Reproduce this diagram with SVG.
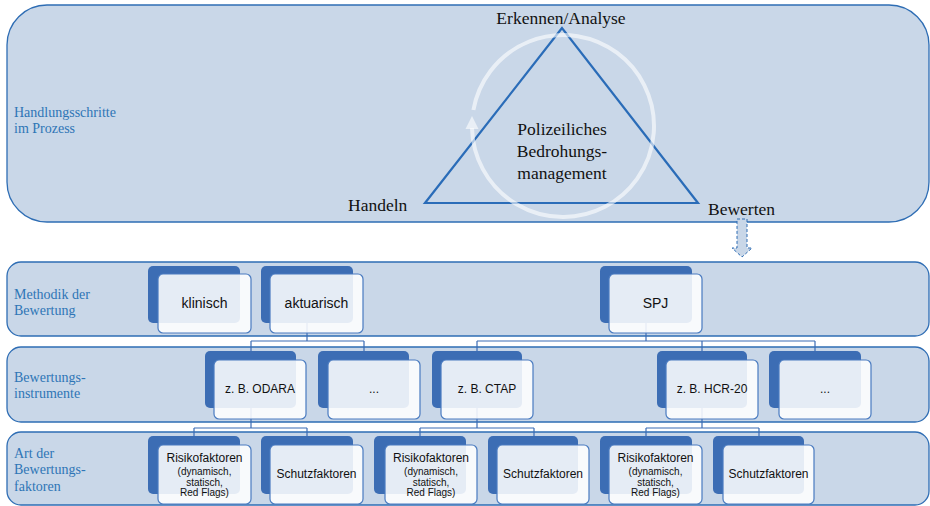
<svg xmlns="http://www.w3.org/2000/svg" width="930" height="506" viewBox="0 0 930 506">
  <style>
    .panel { fill: #c9d7e8; stroke: #2e6db4; stroke-width: 1.3; }
    .rowlabel { font-family: "Liberation Serif", "Times New Roman", serif; font-size: 14px; fill: #2e75b6; }
    .cycle { font-family: "Liberation Serif", "Times New Roman", serif; font-size: 17.5px; fill: #111; }
    .back { fill: #3c6db4; }
    .front { fill: #ffffff; fill-opacity: 0.87; stroke: #4a7bc0; stroke-width: 1.2; }
    .t14 { font-family: "Liberation Sans", Arial, sans-serif; font-size: 14px; fill: #111; text-anchor: middle; }
    .t12 { font-family: "Liberation Sans", Arial, sans-serif; font-size: 12px; fill: #111; text-anchor: middle; }
    .t10 { font-family: "Liberation Sans", Arial, sans-serif; font-size: 10px; fill: #111; text-anchor: middle; }
    .conn { fill: none; stroke: #3b6cb5; stroke-width: 1.2; }
  </style>

  <!-- Stage panels -->
  <g id="panel-process">
    <rect class="panel" x="7" y="5" width="922" height="217" rx="40" ry="40"/>
    <text class="rowlabel" x="14" y="117">Handlungsschritte</text>
    <text class="rowlabel" x="14" y="133">im Prozess</text>
  </g>
  <g id="panel-methodik">
    <rect class="panel" x="7" y="262" width="922" height="74" rx="14" ry="14"/>
    <text class="rowlabel" x="14" y="299">Methodik der</text>
    <text class="rowlabel" x="14" y="315">Bewertung</text>
  </g>
  <g id="panel-instrumente">
    <rect class="panel" x="7" y="347" width="922" height="75" rx="14" ry="14"/>
    <text class="rowlabel" x="14" y="382">Bewertungs-</text>
    <text class="rowlabel" x="14" y="398">instrumente</text>
  </g>
  <g id="panel-faktoren">
    <rect class="panel" x="7" y="432" width="922" height="73" rx="14" ry="14"/>
    <text class="rowlabel" x="14" y="458">Art der</text>
    <text class="rowlabel" x="14" y="474">Bewertungs-</text>
    <text class="rowlabel" x="14" y="491">faktoren</text>
  </g>

  <!-- Threat management cycle -->
  <g id="cycle">
    <polygon points="562,28 425,203 698,203" fill="none" stroke="#2a6cb8" stroke-width="2.2" stroke-linejoin="miter"/>
    <path d="M 473.4 110 A 91 91 0 1 1 472 128" fill="none" stroke="#ffffff" stroke-opacity="0.6" stroke-width="4"/>
    <polygon points="472,116 465.5,129 478.5,129" fill="#ffffff" fill-opacity="0.6"/>
    <text class="cycle" x="561" y="24" text-anchor="middle">Erkennen/Analyse</text>
    <text class="cycle" x="348" y="211">Handeln</text>
    <text class="cycle" x="708" y="215">Bewerten</text>
    <text class="cycle" x="562" y="135" text-anchor="middle">Polizeiliches</text>
    <text class="cycle" x="562" y="157" text-anchor="middle">Bedrohungs-</text>
    <text class="cycle" x="562" y="179" text-anchor="middle">management</text>
  </g>

  <!-- Transition arrow from the cycle into the method rows -->
  <g id="transition-arrow">
    <polygon points="737,219 747,219 747,248 752,248 742,257 732,248 737,248" fill="#c9d7e8" stroke="#2e6db4" stroke-width="1" stroke-dasharray="3,2"/>
  </g>

  <!-- Connectors -->
  <g id="connectors">
    <path class="conn" d="M307,323 V341 M251,341 H364 M251,341 V351 M364,341 V351"/>
    <path class="conn" d="M646,323 V341 M477,341 H815 M477,341 V351 M702,341 V351 M815,341 V351"/>
    <path class="conn" d="M251,408 V428 M194,428 H307 M194,428 V436 M307,428 V436"/>
    <path class="conn" d="M477,408 V428 M420,428 H534 M420,428 V436 M534,428 V436"/>
    <path class="conn" d="M702,408 V428 M646,428 H759 M646,428 V436 M759,428 V436"/>
  </g>

  <!-- Row: Methodik der Bewertung -->
  <g id="node-klinisch">
    <rect class="back" x="148" y="266" width="92" height="57" rx="5"/>
    <rect class="front" x="158" y="274" width="93" height="59" rx="5"/>
    <text class="t14" x="204.5" y="308">klinisch</text>
  </g>
  <g id="node-aktuarisch">
    <rect class="back" x="261" y="266" width="92" height="57" rx="5"/>
    <rect class="front" x="270" y="274" width="93" height="59" rx="5"/>
    <text class="t14" x="316.5" y="308">aktuarisch</text>
  </g>
  <g id="node-spj">
    <rect class="back" x="600" y="266" width="92" height="57" rx="5"/>
    <rect class="front" x="609" y="274" width="93" height="59" rx="5"/>
    <text class="t14" x="655.5" y="308">SPJ</text>
  </g>

  <!-- Row: Bewertungsinstrumente -->
  <g id="node-odara">
    <rect class="back" x="205" y="351" width="91" height="57" rx="5"/>
    <rect class="front" x="214" y="360" width="92" height="59" rx="5"/>
    <text class="t12" x="260" y="393">z. B. ODARA</text>
  </g>
  <g id="node-etc-1">
    <rect class="back" x="318" y="351" width="91" height="57" rx="5"/>
    <rect class="front" x="328" y="360" width="92" height="59" rx="5"/>
    <text class="t12" x="374" y="393">...</text>
  </g>
  <g id="node-ctap">
    <rect class="back" x="432" y="351" width="90" height="57" rx="5"/>
    <rect class="front" x="441" y="360" width="92" height="59" rx="5"/>
    <text class="t12" x="487" y="393">z. B. CTAP</text>
  </g>
  <g id="node-hcr20">
    <rect class="back" x="657" y="351" width="90" height="57" rx="5"/>
    <rect class="front" x="666" y="360" width="92" height="59" rx="5"/>
    <text class="t12" x="712" y="393">z. B. HCR-20</text>
  </g>
  <g id="node-etc-2">
    <rect class="back" x="769" y="351" width="92" height="57" rx="5"/>
    <rect class="front" x="779" y="360" width="92" height="59" rx="5"/>
    <text class="t12" x="825" y="393">...</text>
  </g>

  <!-- Row: Art der Bewertungsfaktoren -->
  <g id="node-risiko-1">
    <rect class="back" x="148" y="436" width="92" height="58" rx="5"/>
    <rect class="front" x="158" y="445" width="93" height="59" rx="5"/>
    <text class="t12" x="204.5" y="462">Risikofaktoren</text>
    <text class="t10" x="204.5" y="475">(dynamisch,</text>
    <text class="t10" x="204.5" y="485.5">statisch,</text>
    <text class="t10" x="204.5" y="495.5">Red Flags)</text>
  </g>
  <g id="node-schutz-1">
    <rect class="back" x="261" y="436" width="92" height="58" rx="5"/>
    <rect class="front" x="270" y="445" width="93" height="59" rx="5"/>
    <text class="t12" x="316.5" y="478">Schutzfaktoren</text>
  </g>
  <g id="node-risiko-2">
    <rect class="back" x="374" y="436" width="92" height="58" rx="5"/>
    <rect class="front" x="385" y="445" width="92" height="59" rx="5"/>
    <text class="t12" x="431" y="462">Risikofaktoren</text>
    <text class="t10" x="431" y="475">(dynamisch,</text>
    <text class="t10" x="431" y="485.5">statisch,</text>
    <text class="t10" x="431" y="495.5">Red Flags)</text>
  </g>
  <g id="node-schutz-2">
    <rect class="back" x="488" y="436" width="90" height="58" rx="5"/>
    <rect class="front" x="497" y="445" width="92" height="59" rx="5"/>
    <text class="t12" x="543" y="478">Schutzfaktoren</text>
  </g>
  <g id="node-risiko-3">
    <rect class="back" x="600" y="436" width="92" height="58" rx="5"/>
    <rect class="front" x="609" y="445" width="93" height="59" rx="5"/>
    <text class="t12" x="655.5" y="462">Risikofaktoren</text>
    <text class="t10" x="655.5" y="475">(dynamisch,</text>
    <text class="t10" x="655.5" y="485.5">statisch,</text>
    <text class="t10" x="655.5" y="495.5">Red Flags)</text>
  </g>
  <g id="node-schutz-3">
    <rect class="back" x="713" y="436" width="91" height="58" rx="5"/>
    <rect class="front" x="723" y="445" width="91" height="59" rx="5"/>
    <text class="t12" x="768.5" y="478">Schutzfaktoren</text>
  </g>
</svg>
